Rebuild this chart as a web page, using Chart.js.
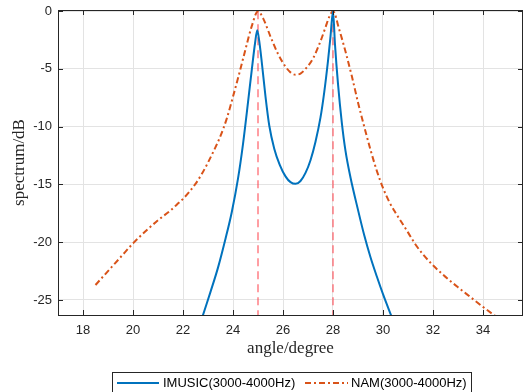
<!DOCTYPE html>
<html>
<head>
<meta charset="utf-8">
<script src="https://cdn.jsdelivr.net/npm/chart.js@4.4.0/dist/chart.umd.min.js"></script>
<style>
  html, body { margin: 0; padding: 0; background: #fff; }
</style>
</head>
<body>
<canvas id="chart" width="523" height="392"></canvas>
<script>
'use strict';

// ===== data =====
const imusicAngle = [22.6, 22.8, 23.1, 23.4, 23.7, 23.95, 24.2, 24.4, 24.6, 24.75, 24.88, 24.97,
    25.05, 25.15, 25.3, 25.45, 25.65, 25.87, 26.1, 26.3, 26.5, 26.7, 26.9, 27.1, 27.3, 27.5,
    27.65, 27.8, 27.9, 28.0, 28.08, 28.2, 28.35, 28.5, 28.7, 29.0, 29.25, 29.5, 29.75, 30.0, 30.3, 30.5];
const imusicDb = [-27.7, -26.3, -24.3, -22.2, -19.7, -17.4, -14.5, -11.5, -7.9, -5.1, -2.8, -1.65,
    -2.6, -4.4, -7.4, -9.9, -11.9, -13.3, -14.3, -14.8, -14.95, -14.7, -14.0, -12.9, -11.3, -9.2,
    -7.0, -4.3, -2.2, 0.0, -2.9, -6.3, -9.6, -12.1, -14.4, -17.2, -19.4, -21.3, -22.95, -24.5, -26.2, -27.3];

const namAngle = [18.5, 19.0, 19.5, 20.0, 20.5, 21.0, 21.5, 21.75, 22.0, 22.25, 22.5, 22.75, 23.0,
    23.25, 23.5, 23.75, 24.0, 24.25, 24.5, 24.75, 25.0, 25.2, 25.5, 25.8, 26.1, 26.3, 26.5, 26.7,
    26.9, 27.2, 27.5, 27.7, 27.85, 28.0, 28.25, 28.5, 28.75, 29.0, 29.25, 29.5, 29.75, 30.0,
    30.25, 30.5, 30.75, 31.0, 31.3, 31.6, 32.0, 32.5, 33.0, 33.5, 34.0, 34.5, 34.7];
const namDb = [-23.7, -22.5, -21.3, -20.1, -19.05, -18.1, -17.25, -16.75, -16.25, -15.65, -14.95, -14.1, -13.1,
    -12.0, -10.8, -9.3, -7.4, -5.4, -3.3, -1.3, 0.0, -0.6, -2.2, -3.7, -4.8, -5.3, -5.5, -5.4,
    -5.0, -4.1, -2.6, -1.4, -0.5, 0.0, -1.6, -3.5, -5.6, -7.9, -10.0, -12.0, -13.8, -15.3,
    -16.5, -17.45, -18.3, -19.15, -20.2, -21.05, -22.0, -23.0, -23.9, -24.75, -25.6, -26.4, -26.7];

const trueAngles = [25, 28];
const xTicks = [18, 20, 22, 24, 26, 28, 30, 32, 34];
const yTicks = [-25, -20, -15, -10, -5, 0];
const seriesLabels = ['IMUSIC(3000-4000Hz)', 'NAM(3000-4000Hz)'];
const xTitle = 'angle/degree';
const yTitle = 'spectrum/dB';

const BLUE = '#0072BD';
const ORANGE = '#D95319';
const AXIS = '#262626';

function toPoints(xs, ys) {
    return xs.map((x, i) => ({x: x, y: ys[i]}));
}

const datasets = [
    {
        label: seriesLabels[0],
        data: toPoints(imusicAngle, imusicDb),
        borderColor: BLUE,
        borderWidth: 2,
        pointRadius: 0,
        cubicInterpolationMode: 'monotone'
    },
    {
        label: seriesLabels[1],
        data: toPoints(namAngle, namDb),
        borderColor: ORANGE,
        borderWidth: 2,
        borderDash: [6, 3, 2, 3],
        pointRadius: 0,
        cubicInterpolationMode: 'monotone'
    }
];
trueAngles.forEach(a => {
    datasets.push({
        label: '',
        data: [{x: a, y: 0}, {x: a, y: -30}],
        borderColor: 'rgba(255,40,50,0.45)',
        borderWidth: 2,
        borderDash: [8, 5],
        pointRadius: 0
    });
});

// MATLAB-like box, inward ticks, titles and legend
const matlabLook = {
    id: 'matlabLook',
    afterDatasetsDraw(chart) {
        const ctx = chart.ctx;
        const a = chart.chartArea;
        const xs = chart.scales.x, ys = chart.scales.y;
        ctx.save();
        ctx.strokeStyle = AXIS;
        ctx.lineWidth = 1;
        ctx.beginPath();
        ctx.moveTo(a.left, a.top + 0.5);
        ctx.lineTo(a.right, a.top + 0.5);
        ctx.moveTo(a.right - 0.5, a.top);
        ctx.lineTo(a.right - 0.5, a.bottom);
        xTicks.forEach(v => {
            const px = Math.round(xs.getPixelForValue(v)) + 0.5;
            ctx.moveTo(px, a.bottom);
            ctx.lineTo(px, a.bottom - 5);
            ctx.moveTo(px, a.top);
            ctx.lineTo(px, a.top + 5);
        });
        yTicks.forEach(v => {
            const py = Math.round(ys.getPixelForValue(v)) + 0.5;
            ctx.moveTo(a.left, py);
            ctx.lineTo(a.left + 5, py);
            ctx.moveTo(a.right, py);
            ctx.lineTo(a.right - 5, py);
        });
        ctx.stroke();
        ctx.restore();
    },
    afterDraw(chart) {
        const ctx = chart.ctx;
        const a = chart.chartArea;
        ctx.save();
        ctx.fillStyle = AXIS;
        ctx.font = '17px "Liberation Serif", "Times New Roman", serif';
        ctx.textAlign = 'center';
        ctx.textBaseline = 'middle';
        ctx.fillText(xTitle, (a.left + a.right) / 2, 349);
        ctx.translate(20, (a.top + a.bottom) / 2);
        ctx.rotate(-Math.PI / 2);
        ctx.fillText(yTitle, 0, 0);
        ctx.restore();

        // legend box
        ctx.save();
        ctx.fillStyle = '#fff';
        ctx.fillRect(112.5, 372.5, 359, 30);
        ctx.strokeStyle = AXIS;
        ctx.lineWidth = 1;
        ctx.strokeRect(112.5, 372.5, 359, 30);
        ctx.font = '13px "Liberation Sans", Arial, sans-serif';
        ctx.textBaseline = 'middle';
        ctx.textAlign = 'left';
        const items = [
            {color: BLUE, dash: [], x0: 117, x1: 159, tx: 163, text: seriesLabels[0]},
            {color: ORANGE, dash: [6, 3, 2, 3], x0: 305, x1: 348, tx: 351, text: seriesLabels[1]}
        ];
        items.forEach(it => {
            ctx.strokeStyle = it.color;
            ctx.lineWidth = 2;
            ctx.setLineDash(it.dash);
            ctx.beginPath();
            ctx.moveTo(it.x0, 383);
            ctx.lineTo(it.x1, 383);
            ctx.stroke();
            ctx.setLineDash([]);
            ctx.fillStyle = '#000';
            ctx.fillText(it.text, it.tx, 383);
        });
        ctx.restore();
    }
};

new Chart(document.getElementById('chart'), {
    type: 'line',
    data: {datasets: datasets},
    options: {
        responsive: false,
        animation: false,
        devicePixelRatio: 1,
        layout: {padding: {top: 10, right: 0, bottom: 0, left: 0}},
        plugins: {
            legend: {display: false},
            tooltip: {enabled: false}
        },
        scales: {
            x: {
                type: 'linear',
                min: 17,
                max: 35.6,
                afterBuildTicks: s => { s.ticks = xTicks.map(v => ({value: v})); },
                afterFit: s => { s.height = 77; s.paddingLeft = 0; s.paddingRight = 0; },
                grid: {color: '#e3e3e3', drawTicks: false},
                border: {display: true, color: AXIS, width: 1},
                ticks: {
                    padding: 8,
                    color: AXIS,
                    font: {family: '"Liberation Sans", Arial, sans-serif', size: 13},
                    maxRotation: 0
                }
            },
            y: {
                type: 'linear',
                min: -26.3,
                max: 0.1,
                afterBuildTicks: s => { s.ticks = yTicks.map(v => ({value: v})); },
                afterFit: s => { s.width = 58; s.paddingTop = 0; s.paddingBottom = 0; },
                grid: {color: '#e3e3e3', drawTicks: false},
                border: {display: true, color: AXIS, width: 1},
                ticks: {
                    padding: 6,
                    color: AXIS,
                    font: {family: '"Liberation Sans", Arial, sans-serif', size: 13}
                }
            }
        }
    },
    plugins: [matlabLook]
});
</script>
</body>
</html>
